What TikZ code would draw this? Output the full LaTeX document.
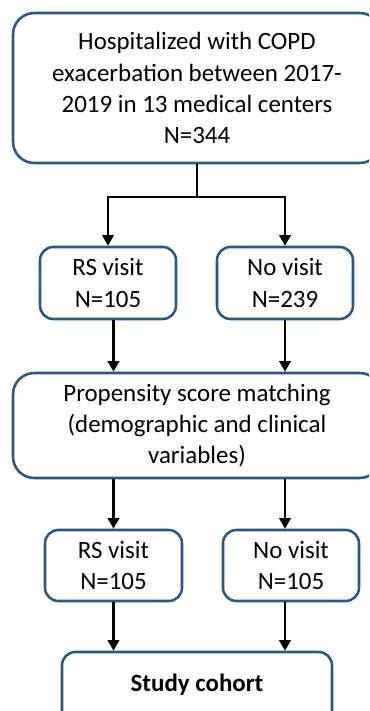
\documentclass[tikz,border=0pt]{standalone}
\usepackage{fontspec}
\setmainfont{Carlito}
\usetikzlibrary{arrows.meta}
\definecolor{boxblue}{RGB}{44,87,131}

\begin{document}
\begin{tikzpicture}[x=0.75pt,y=-0.75pt,
        flow box/.style={draw=boxblue, line width=1.9pt, rounded corners=10pt,
          align=center, inner sep=0pt, font=\fontsize{18.7}{23.3}\selectfont},
        wide box/.style={flow box, rounded corners=16pt, minimum width=368*0.75pt},
        flow arrow/.style={draw=black, line width=2pt,
          -{Triangle[length=8pt,width=8.5pt]}}]
        \clip (0,0) rectangle (369,711);
        \fill[white] (0,0) rectangle (369,711);

        % boxes, top to bottom
        \node[wide box, minimum height=150*0.75pt] (start) at (197,88)
          {Hospitalized with COPD\\exacerbation between 2017-\\2019 in 13 medical centers\\N=344};

        \node[flow box, minimum width=136*0.75pt, minimum height=72*0.75pt] (rsA) at (108,283) {RS visit\\N=105};
        \node[flow box, minimum width=136*0.75pt, minimum height=72*0.75pt] (noA) at (285,283) {No visit\\N=239};

        \node[wide box, minimum height=105*0.75pt] (match) at (197,425.5)
          {Propensity score matching\\(demographic and clinical\\variables)};

        \node[flow box, minimum width=137*0.75pt, minimum height=71*0.75pt] (rsB) at (113.5,565.5) {RS visit\\N=105};
        \node[flow box, minimum width=136*0.75pt, minimum height=71*0.75pt] (noB) at (291,565.5) {No visit\\N=105};

        \node[flow box, minimum width=270*0.75pt, minimum height=90*0.75pt] (cohort) at (197,697) {};
        \node[font=\fontsize{18.7}{23.3}\selectfont\bfseries] (cohortlabel) at (197,685) {Study cohort};

        % connectors
        \coordinate (fork) at (197,197);
        \draw[line width=2pt] (start.south) -- (fork);
        \draw[flow arrow] (fork) -| (rsA.north);
        \draw[flow arrow] (fork) -| (noA.north);

        \draw[flow arrow] (rsB.north |- rsA.south) -- (rsB.north |- match.north);
        \draw[flow arrow] (noA.south) -- (noA.south |- match.north);

        \draw[flow arrow] (rsB.north |- match.south) -- (rsB.north);
        \draw[flow arrow] (noA.south |- match.south) -- (noA.south |- noB.north);

        \draw[flow arrow] (rsB.south) -- (rsB.south |- cohort.north);
        \draw[flow arrow] (noA.south |- noB.south) -- (noA.south |- cohort.north);
\end{tikzpicture}
\end{document}
